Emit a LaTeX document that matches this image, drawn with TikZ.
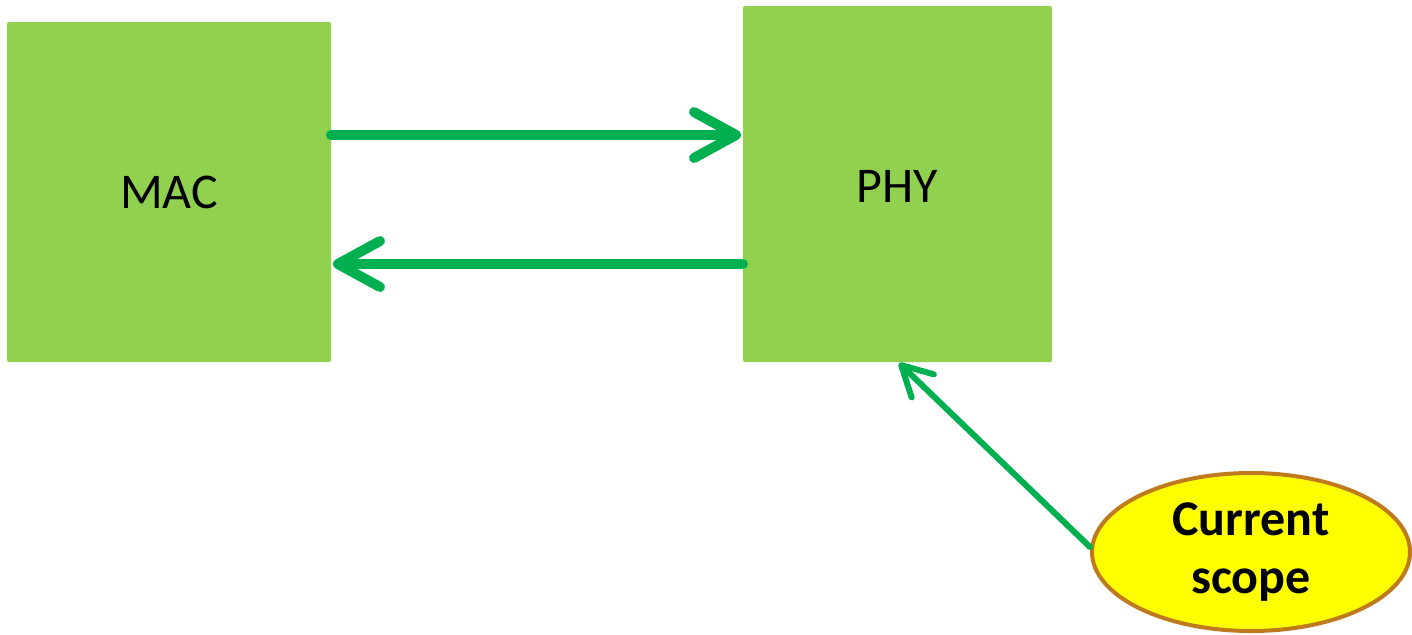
\documentclass[tikz,border=0pt]{standalone}
\usepackage{fontspec}
\setmainfont{Carlito}
\usetikzlibrary{arrows.meta,shapes.geometric}
\definecolor{boxgreen}{HTML}{92D050}
\definecolor{linkgreen}{HTML}{00B050}
\definecolor{scopefill}{HTML}{FFFF00}
\definecolor{scopeedge}{HTML}{BF7A1E}
\tikzset{
  layer/.style={draw=none, fill=boxgreen, rounded corners=1pt, inner sep=0pt,
    font=\fontsize{25}{30}\selectfont},
  link/.style={draw=linkgreen, line width=5pt, line cap=round,
    -{Straight Barb[length=21pt, width=23pt, line cap=round, line join=round]}},
  thinlink/.style={draw=linkgreen, line width=3pt, line cap=round,
    -{Straight Barb[length=15pt, width=16pt, line cap=round, line join=round]}},
  scope/.style={ellipse, draw=scopeedge, line width=2pt, fill=scopefill,
    minimum width=159pt, minimum height=79pt, inner sep=0pt, align=center,
    font=\bfseries\fontsize{25}{29}\selectfont}
}
\begin{document}
\begin{tikzpicture}[x=0.5pt, y=-0.5pt]
  \useasboundingbox (0,0) rectangle (1412,634);
  % protocol layers
  \node[layer, minimum width=162pt, minimum height=170pt] (mac) at (169,192) {MAC};
  \node[layer, minimum width=154.5pt, minimum height=178pt] (phy) at (897.5,184) {};
  \node[font=\fontsize{25}{30}\selectfont] (phylabel) at (897,186) {PHY};
  % interface arrows
  \coordinate (macTop) at (331,135);
  \coordinate (phyTop) at (741,135);
  \coordinate (phyBot) at (743,264);
  \coordinate (macBot) at (333,264);
  \draw[link] (macTop) -- (phyTop);
  \draw[link] (phyBot) -- (macBot);
  % scope marker
  \node[scope] (cur) at (1251,552) {Current\\scope};
  \coordinate (phyTip) at (899,363);
  \draw[thinlink] (cur.west) ++(0,-5) -- (phyTip);
\end{tikzpicture}
\end{document}
